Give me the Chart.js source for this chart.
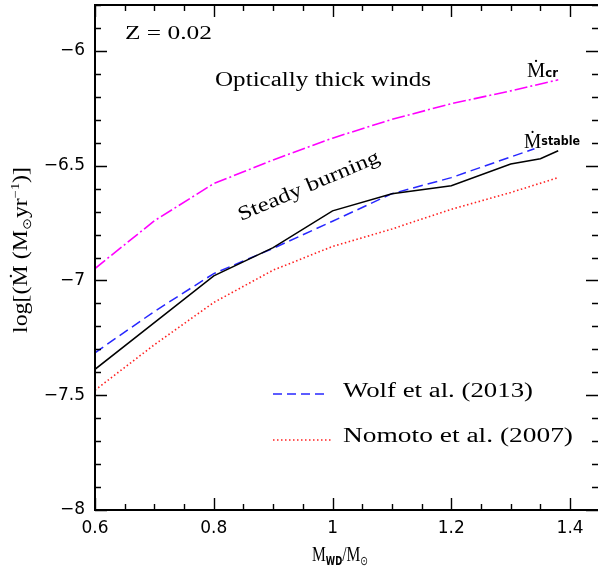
<!DOCTYPE html>
<html>
<head>
<meta charset="utf-8">
<script src="https://cdn.jsdelivr.net/npm/chart.js@4.4.1/dist/chart.umd.min.js"></script>
<style>
  html, body { margin: 0; padding: 0; background: #fff; }
  #wrap { width: 598px; height: 569px; }
</style>
</head>
<body>
<div id="wrap"><canvas id="c" width="598" height="569"></canvas></div>
<script>
// White-dwarf accretion-rate boundaries, Z = 0.02
const crMass = [0.6, 0.7, 0.8, 0.9, 1.0, 1.1, 1.2, 1.3, 1.38];
const crRate = [-6.948, -6.74, -6.578, -6.475, -6.38, -6.298, -6.23, -6.174, -6.126];

const stableMass = [0.6, 0.8, 0.9, 1.0, 1.1, 1.2, 1.3, 1.35, 1.38];
const stableRate = [-7.387, -6.98, -6.857, -6.697, -6.622, -6.587, -6.493, -6.47, -6.435];

const wolfMass = [0.6, 0.7, 0.8, 0.9, 1.0, 1.1, 1.2, 1.3, 1.34];
const wolfRate = [-7.315, -7.135, -6.97, -6.86, -6.742, -6.622, -6.552, -6.462, -6.426];

const nomotoMass = [0.6, 0.7, 0.8, 0.9, 1.0, 1.1, 1.2, 1.3, 1.38];
const nomotoRate = [-7.478, -7.28, -7.096, -6.955, -6.852, -6.776, -6.69, -6.617, -6.552];

const xTickValues = [0.6, 0.8, 1.0, 1.2, 1.4];
const yTickValues = [-8, -7.5, -7, -6.5, -6];

const SERIF = '"Liberation Serif", "DejaVu Serif", serif';
const SANS = '"DejaVu Sans", "Liberation Sans", sans-serif';

function pts(xs, ys) { return xs.map((x, i) => ({ x: x, y: ys[i] })); }

// draw a run of text segments, stretched horizontally to a given width
function drawRun(ctx, segs, width) {
  let natural = 0;
  segs.forEach(s => { ctx.font = s.font; natural += ctx.measureText(s.t).width; });
  const sx = width ? width / natural : 1;
  ctx.save();
  ctx.scale(sx, 1);
  let cx = 0;
  segs.forEach(s => {
    ctx.font = s.font;
    ctx.fillText(s.t, cx, s.dy || 0);
    cx += ctx.measureText(s.t).width;
  });
  ctx.restore();
}

function textAt(ctx, segs, x, y, width, angle) {
  ctx.save();
  ctx.translate(x, y);
  if (angle) ctx.rotate(angle);
  ctx.fillStyle = '#000';
  ctx.textBaseline = 'alphabetic';
  ctx.textAlign = 'left';
  drawRun(ctx, segs, width);
  ctx.restore();
}

const frameAndNotes = {
  id: 'frameAndNotes',
  afterDraw(chart) {
    const ctx = chart.ctx;
    const xs = chart.scales.x, ys = chart.scales.y;
    const a = chart.chartArea;
    ctx.save();
    ctx.strokeStyle = '#000';
    // frame
    ctx.lineWidth = 2;
    ctx.beginPath();
    ctx.moveTo(a.right + 2, a.top); ctx.lineTo(a.left, a.top);
    ctx.lineTo(a.left, a.bottom); ctx.lineTo(a.right + 2, a.bottom);
    ctx.stroke();
    // inward ticks on all sides
    ctx.lineWidth = 1.4;
    for (let i = 0; i <= 17; i++) {
      const v = 0.6 + i * 0.05;
      const px = Math.round(xs.getPixelForValue(v)) + 0.5;
      const major = i % 4 === 0;
      const L = major ? 12 : 6;
      ctx.beginPath();
      ctx.moveTo(px, a.bottom); ctx.lineTo(px, a.bottom - L);
      ctx.moveTo(px, a.top); ctx.lineTo(px, a.top + L);
      ctx.stroke();
    }
    for (let i = 0; i <= 22; i++) {
      const v = -8 + i * 0.1;
      const py = Math.round(ys.getPixelForValue(v)) + 0.5;
      const major = i % 5 === 0;
      const L = major ? 12 : 6;
      ctx.beginPath();
      ctx.moveTo(a.left, py); ctx.lineTo(a.left + L, py);
      ctx.moveTo(a.right, py); ctx.lineTo(a.right - L, py);
      ctx.stroke();
    }

    const f20 = '20px ' + SERIF;
    // annotations
    textAt(ctx, [{ t: 'Z = 0.02', font: '19px ' + SERIF }], 125, 39, 87);
    textAt(ctx, [{ t: 'Optically thick winds', font: f20 }], 215, 86, 216);
    textAt(ctx, [{ t: 'Steady burning', font: f20 }], 241, 221, 152, -23 * Math.PI / 180);
    textAt(ctx, [{ t: 'Ṁ', font: '21px ' + SERIF }, { t: 'cr', font: 'bold 12px ' + SANS, dy: 0 }], 527, 77, 31);
    textAt(ctx, [{ t: 'Ṁ', font: '21px ' + SERIF }, { t: 'stable', font: 'bold 12px ' + SANS, dy: -3 }], 524, 148, 56);

    // legend
    ctx.lineWidth = 1.5;
    ctx.strokeStyle = '#2727ff';
    ctx.setLineDash([9, 5]);
    ctx.beginPath(); ctx.moveTo(273, 394); ctx.lineTo(328, 394); ctx.stroke();
    ctx.strokeStyle = '#ff2020';
    ctx.setLineDash([1.5, 2.5]);
    ctx.beginPath(); ctx.moveTo(273, 440); ctx.lineTo(332, 440); ctx.stroke();
    ctx.setLineDash([]);
    textAt(ctx, [{ t: 'Wolf et al. (2013)', font: f20 }], 343, 397, 190);
    textAt(ctx, [{ t: 'Nomoto et al. (2007)', font: f20 }], 343, 442, 230);

    // axis titles
    textAt(ctx, [
      { t: 'M', font: '22px ' + SERIF },
      { t: 'WD', font: 'bold 12px ' + SANS, dy: 4 },
      { t: '/M', font: '22px ' + SERIF },
      { t: '⊙', font: '13px ' + SANS, dy: 4 }
    ], 312, 561, 56);
    textAt(ctx, [
      { t: 'log[(', font: f20 },
      { t: 'Ṁ', font: f20 },
      { t: ' (M', font: f20 },
      { t: '⊙', font: '12px ' + SANS, dy: 4 },
      { t: 'yr', font: f20 },
      { t: '−1', font: '12px ' + SERIF, dy: -8 },
      { t: ')]', font: f20 }
    ], 27, 333, 166, -Math.PI / 2);
    ctx.restore();
  }
};

function fmt(v) {
  const r = +v.toFixed(2);
  return (r < 0 ? '−' : '') + String(Math.abs(r));
}

function fixPad(s) { s.paddingTop = 0; s.paddingBottom = 0; s.paddingLeft = 0; s.paddingRight = 0; }

new Chart(document.getElementById('c'), {
  type: 'scatter',
  data: {
    datasets: [
      { data: pts(crMass, crRate), showLine: true, borderColor: '#ff00ff', borderWidth: 1.6,
        borderDash: [13, 3, 2, 3], pointRadius: 0, fill: false },
      { data: pts(stableMass, stableRate), showLine: true, borderColor: '#000000', borderWidth: 1.5,
        pointRadius: 0, fill: false },
      { data: pts(wolfMass, wolfRate), showLine: true, borderColor: '#2727ff', borderWidth: 1.5,
        borderDash: [10, 5], pointRadius: 0, fill: false },
      { data: pts(nomotoMass, nomotoRate), showLine: true, borderColor: '#ff2020', borderWidth: 1.6,
        borderDash: [1.5, 2.5], pointRadius: 0, fill: false }
    ]
  },
  options: {
    responsive: false,
    animation: false,
    layout: { padding: { top: 5, right: 0, left: 0, bottom: 0 } },
    plugins: { legend: { display: false }, tooltip: { enabled: false } },
    scales: {
      x: {
        type: 'linear', min: 0.6, max: 1.447,
        grid: { display: false, drawTicks: false },
        border: { display: false },
        afterBuildTicks: s => { s.ticks = xTickValues.map(v => ({ value: v })); },
        afterFit: s => { s.height = 59; fixPad(s); },
        ticks: { color: '#000', font: { family: SANS, size: 17 }, padding: 8, maxRotation: 0,
          callback: v => fmt(v) }
      },
      y: {
        type: 'linear', min: -8, max: -5.8,
        grid: { display: false, drawTicks: false },
        border: { display: false },
        afterBuildTicks: s => { s.ticks = yTickValues.map(v => ({ value: v })); },
        afterFit: s => { s.width = 95; fixPad(s); },
        ticks: { color: '#000', font: { family: SANS, size: 17 }, padding: 10,
          callback: v => fmt(v) }
      }
    }
  },
  plugins: [frameAndNotes]
});
</script>
</body>
</html>
